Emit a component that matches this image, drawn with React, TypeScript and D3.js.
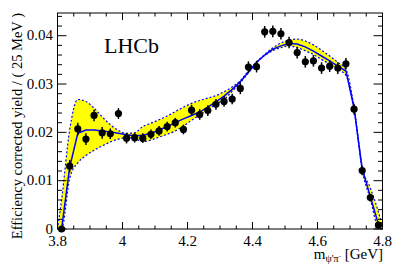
import React, { useEffect, useRef } from 'react';
import * as d3 from 'd3';

// bin centres, 25 MeV bins
const massBins = [
  3.8125, 3.8375, 3.8625, 3.8875, 3.9125, 3.9375, 3.9625, 3.9875, 4.0125, 4.0375,
  4.0625, 4.0875, 4.1125, 4.1375, 4.1625, 4.1875, 4.2125, 4.2375, 4.2625, 4.2875,
  4.3125, 4.3375, 4.3625, 4.3875, 4.4125, 4.4375, 4.4625, 4.4875, 4.5125, 4.5375,
  4.5625, 4.5875, 4.6125, 4.6375, 4.6625, 4.6875, 4.7125, 4.7375, 4.7625, 4.7875,
];

const yields = [
  0.0000, 0.0130, 0.0207, 0.0186, 0.0235, 0.0199, 0.0197, 0.0239, 0.0188, 0.0189,
  0.0188, 0.0196, 0.0203, 0.0212, 0.0220, 0.0206, 0.0246, 0.0237, 0.0245, 0.0258,
  0.0264, 0.0269, 0.0291, 0.0335, 0.0336, 0.0408, 0.0409, 0.0404, 0.0386, 0.0365,
  0.0346, 0.0348, 0.0333, 0.0337, 0.0333, 0.0342, 0.0248, 0.0121, 0.0065, 0.0008,
];

const yieldErrors = [
  0.0004, 0.0013, 0.0013, 0.0012, 0.0012, 0.0012, 0.0011, 0.0011, 0.0011, 0.0010,
  0.0010, 0.0010, 0.0010, 0.0010, 0.0010, 0.0010, 0.0011, 0.0011, 0.0011, 0.0011,
  0.0011, 0.0011, 0.0012, 0.0012, 0.0012, 0.0012, 0.0012, 0.0012, 0.0012, 0.0012,
  0.0012, 0.0012, 0.0012, 0.0012, 0.0012, 0.0012, 0.0011, 0.0010, 0.0008, 0.0005,
];

const fitCurve = [
  0.0000, 0.0128, 0.0198, 0.0205, 0.0205, 0.0203, 0.0201, 0.0198, 0.0195, 0.0193,
  0.0194, 0.0198, 0.0205, 0.0212, 0.0220, 0.0228, 0.0235, 0.0242, 0.0252, 0.0263,
  0.0275, 0.0289, 0.0305, 0.0325, 0.0345, 0.0360, 0.0372, 0.0379, 0.0384, 0.0383,
  0.0377, 0.0368, 0.0358, 0.0348, 0.0337, 0.0327, 0.0250, 0.0125, 0.0067, 0.0010,
];

// uncertainty band edges
const bandMass = [3.8, ...massBins, 4.8];
const bandHi = [
  0.0000,
  0.0060, 0.0205, 0.0268, 0.0264, 0.0250, 0.0232, 0.0216, 0.0204, 0.0198, 0.0199,
  0.0212, 0.0219, 0.0226, 0.0234, 0.0243, 0.0252, 0.0260, 0.0266, 0.0271, 0.0276,
  0.0284, 0.0294, 0.0307, 0.0327, 0.0346, 0.0361, 0.0375, 0.0385, 0.0391, 0.0393,
  0.0389, 0.0381, 0.0370, 0.0358, 0.0345, 0.0330, 0.0252, 0.0128, 0.0085, 0.0035,
  0.0005,
];
const bandLo = [
  0.0000,
  0.0000, 0.0105, 0.0137, 0.0152, 0.0163, 0.0172, 0.0180, 0.0186, 0.0189, 0.0187,
  0.0181, 0.0184, 0.0190, 0.0196, 0.0203, 0.0213, 0.0225, 0.0236, 0.0247, 0.0258,
  0.0268, 0.0285, 0.0303, 0.0323, 0.0344, 0.0359, 0.0369, 0.0375, 0.0379, 0.0375,
  0.0369, 0.0361, 0.0351, 0.0341, 0.0330, 0.0318, 0.0248, 0.0122, 0.0062, 0.0003,
  0.0000,
];

const FONT = '"Liberation Serif", "DejaVu Serif", serif';

const App: React.FC = () => {
  const chartRef = useRef<SVGSVGElement | null>(null);

  useEffect(() => {
    if (!chartRef.current) return;
    const svg = d3.select(chartRef.current);
    svg.selectAll('*').remove();

    const left = 57.5, right = 382.5, top = 13, bottom = 229;
    const x = d3.scaleLinear().domain([3.8, 4.8]).range([left, right]);
    const y = d3.scaleLinear().domain([0, 0.0447]).range([bottom, top]);

    const band = bandMass.map((m, i) => ({ m, lo: bandLo[i], hi: bandHi[i] }));
    const pts = massBins.map((m, i) => ({ m, v: yields[i], e: yieldErrors[i], f: fitCurve[i] }));

    // band
    svg.append('path')
      .datum(band)
      .attr('fill', '#ffff00')
      .attr('d', d3.area<any>()
        .x(d => x(d.m)).y0(d => y(d.lo)).y1(d => y(d.hi))
        .curve(d3.curveMonotoneX));

    ['hi', 'lo'].forEach(k => {
      svg.append('path')
        .datum(band)
        .attr('fill', 'none')
        .attr('stroke', '#0000ff')
        .attr('stroke-width', 1.2)
        .attr('stroke-dasharray', '2,2')
        .attr('d', d3.line<any>().x(d => x(d.m)).y(d => y(d[k])).curve(d3.curveMonotoneX));
    });

    // fit
    svg.append('path')
      .datum(pts)
      .attr('fill', 'none')
      .attr('stroke', '#0000ff')
      .attr('stroke-width', 1.5)
      .attr('d', d3.line<any>().x(d => x(d.m)).y(d => y(d.f)));

    // frame + ticks
    const g = svg.append('g').attr('stroke', 'black').attr('stroke-width', 1);
    g.append('rect')
      .attr('x', left).attr('y', top)
      .attr('width', right - left).attr('height', bottom - top)
      .attr('fill', 'none');

    const xMajor = x.ticks(5);
    const xMinor = x.ticks(20);
    xMinor.forEach(t => {
      const len = xMajor.some(v => Math.abs(v - t) < 1e-9) ? 7 : 3.5;
      g.append('line').attr('x1', x(t)).attr('x2', x(t)).attr('y1', bottom).attr('y2', bottom - len);
      g.append('line').attr('x1', x(t)).attr('x2', x(t)).attr('y1', top).attr('y2', top + len);
    });

    const yMajor = y.ticks(5);
    const yMinor = y.ticks(20);
    yMinor.forEach(t => {
      const len = yMajor.some(v => Math.abs(v - t) < 1e-9) ? 9 : 4.5;
      g.append('line').attr('y1', y(t)).attr('y2', y(t)).attr('x1', left).attr('x2', left + len);
      g.append('line').attr('y1', y(t)).attr('y2', y(t)).attr('x1', right).attr('x2', right - len);
    });

    // tick labels
    svg.append('g').selectAll('text')
      .data(xMajor).enter().append('text')
      .attr('x', d => x(d)).attr('y', 246)
      .attr('text-anchor', 'middle')
      .attr('font-family', FONT).attr('font-size', 15)
      .text(d => String(+d.toFixed(1)));

    svg.append('g').selectAll('text')
      .data(yMajor).enter().append('text')
      .attr('x', 53).attr('y', d => y(d) + 4.5)
      .attr('text-anchor', 'end')
      .attr('font-family', FONT).attr('font-size', 15)
      .text(d => String(+d.toFixed(3)));

    // points
    const p = svg.append('g');
    p.selectAll('line')
      .data(pts).enter().append('line')
      .attr('x1', d => x(d.m)).attr('x2', d => x(d.m))
      .attr('y1', d => y(Math.max(0, d.v - d.e))).attr('y2', d => y(d.v + d.e))
      .attr('stroke', 'black').attr('stroke-width', 1.5);
    p.selectAll('circle')
      .data(pts).enter().append('circle')
      .attr('cx', d => x(d.m)).attr('cy', d => y(d.v))
      .attr('r', 3.6).attr('fill', 'black');

    // titles
    svg.append('text')
      .attr('x', 104).attr('y', 53)
      .attr('font-family', FONT).attr('font-size', 22)
      .text('LHCb');

    svg.append('text')
      .attr('transform', 'translate(22,13) rotate(-90)')
      .attr('text-anchor', 'end')
      .attr('font-family', FONT).attr('font-size', 14.5)
      .text('Efficiency corrected yield / ( 25 MeV )');

    const xt = svg.append('text')
      .attr('x', 383).attr('y', 259)
      .attr('text-anchor', 'end')
      .attr('font-family', FONT).attr('font-size', 15);
    xt.append('tspan').text('m');
    xt.append('tspan').attr('font-size', 10).attr('dy', 3).text("\u03C8'\u03C0");
    xt.append('tspan').attr('font-size', 7).attr('dy', -4).text('-');
    xt.append('tspan').attr('dy', 1).text(' [GeV]');
  }, []);

  return (
    <svg ref={chartRef} width="403" height="273"
      style={{ position: 'absolute', left: 0, top: 0, background: 'white' }} />
  );
};

export default App;
